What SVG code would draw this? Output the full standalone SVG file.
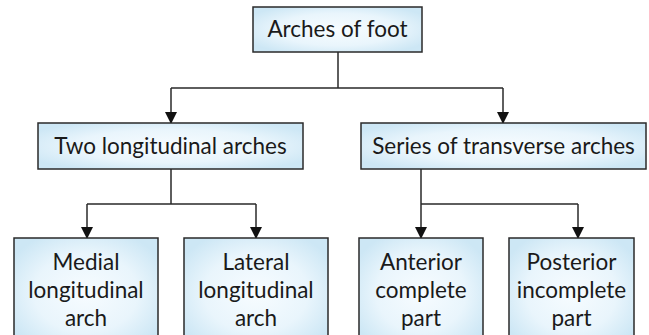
<svg xmlns="http://www.w3.org/2000/svg" width="649" height="335" viewBox="0 0 649 335">
<defs>
<radialGradient id="g" cx="0.5" cy="0.5" r="0.6">
<stop offset="0" stop-color="#f7fcff"/>
<stop offset="0.6" stop-color="#e9f5fc"/>
<stop offset="1" stop-color="#cde7f5"/>
</radialGradient>
<marker id="ah" markerWidth="12" markerHeight="12" refX="11" refY="6" orient="auto" markerUnits="userSpaceOnUse">
<path d="M0,0 L12,6 L0,12 Z" fill="#111"/>
</marker>
<style>
.box{fill:url(#g);stroke:#2a2a2a;stroke-width:1.5}
.t{font-family:Lato,"Open Sans",sans-serif;font-size:22.5px;fill:#1a1a1a;text-anchor:middle}
.c{fill:none;stroke:#2a2a2a;stroke-width:1.5}
</style>
</defs>
<g id="connectors">
<path class="c" d="M338,52 V88 M171,88 H503"/>
<path class="c" d="M171,88 V123" marker-end="url(#ah)"/>
<path class="c" d="M503,88 V123" marker-end="url(#ah)"/>
<path class="c" d="M171,169 V204 M87,204 H256"/>
<path class="c" d="M87,204 V238" marker-end="url(#ah)"/>
<path class="c" d="M256,204 V238" marker-end="url(#ah)"/>
<path class="c" d="M421,169 V204 M421,204 H578"/>
<path class="c" d="M421,204 V238" marker-end="url(#ah)"/>
<path class="c" d="M578,204 V238" marker-end="url(#ah)"/>
</g>
<g id="root"><rect class="box" x="253" y="7" width="169" height="45"/><text class="t" x="337.5" y="37">Arches of foot</text></g>
<g id="two"><rect class="box" x="38" y="123" width="265" height="46"/><text class="t" x="170.5" y="154">Two longitudinal arches</text></g>
<g id="series"><rect class="box" x="361" y="123" width="285" height="46"/><text class="t" x="503.5" y="154">Series of transverse arches</text></g>
<g id="medial"><rect class="box" x="14" y="238" width="144" height="110"/><text class="t" x="86" y="270">Medial</text><text class="t" x="86" y="298">longitudinal</text><text class="t" x="86" y="326">arch</text></g>
<g id="lateral"><rect class="box" x="184" y="238" width="144" height="110"/><text class="t" x="256" y="270">Lateral</text><text class="t" x="256" y="298">longitudinal</text><text class="t" x="256" y="326">arch</text></g>
<g id="anterior"><rect class="box" x="359" y="238" width="124" height="110"/><text class="t" x="421" y="270">Anterior</text><text class="t" x="421" y="298">complete</text><text class="t" x="421" y="326">part</text></g>
<g id="posterior"><rect class="box" x="509" y="238" width="125" height="110"/><text class="t" x="571.5" y="270">Posterior</text><text class="t" x="571.5" y="298">incomplete</text><text class="t" x="571.5" y="326">part</text></g>
</svg>
